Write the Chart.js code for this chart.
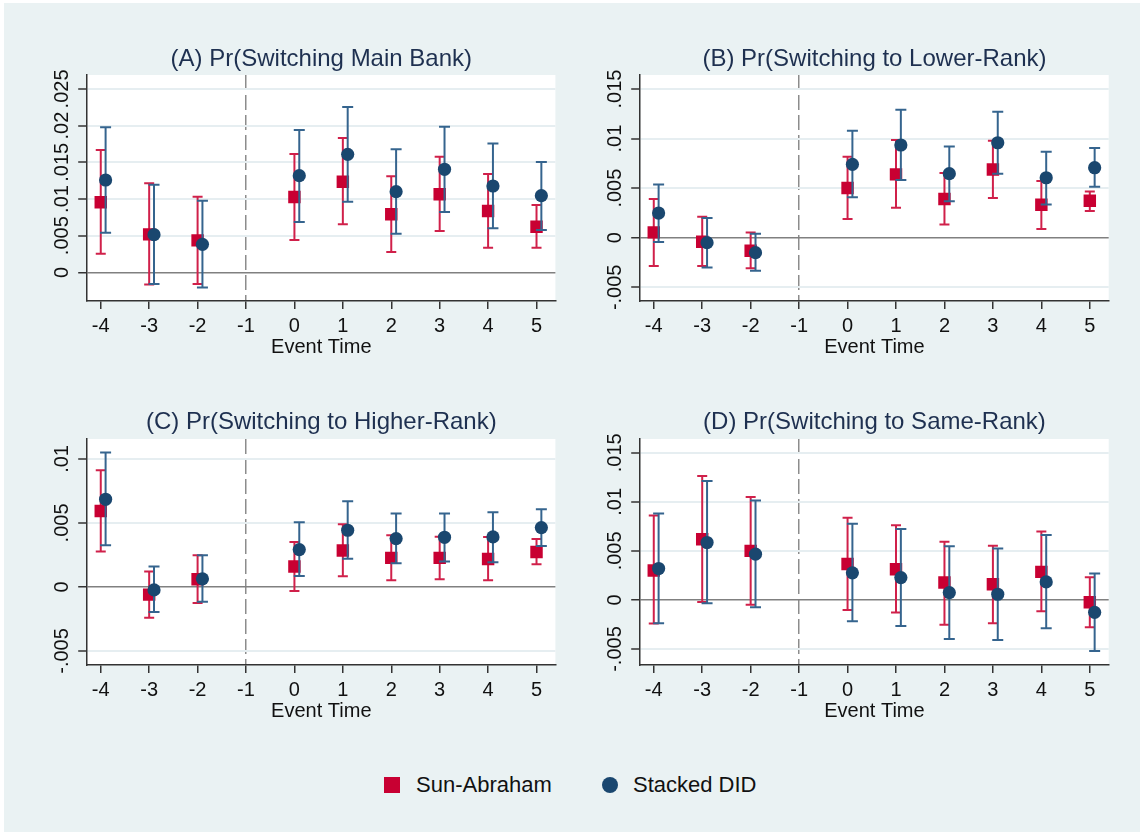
<!DOCTYPE html>
<html>
<head>
<meta charset="utf-8">
<script src="https://cdn.jsdelivr.net/npm/chart.js@4.4.1/dist/chart.umd.min.js"></script>
<style>
  html, body { margin: 0; padding: 0; background: #fff; }
  body { width: 1140px; height: 832px; position: relative; overflow: hidden;
         font-family: "Liberation Sans", Arial, sans-serif; }
  #bg { position: absolute; left: 4px; top: 3px; right: 0; bottom: 0; background: #eaf2f3; }
  canvas { position: absolute; }
  .lg-mark { position: absolute; width: 16px; height: 16px; top: 777px; }
  .lg-text { position: absolute; top: 772px; font-size: 22px; line-height: 26px; color: #111; white-space: nowrap; }
</style>
</head>
<body>
<div id="bg"></div>
<canvas id="cA" width="570" height="330" style="left:0;top:40px"></canvas>
<canvas id="cB" width="570" height="330" style="left:570px;top:40px"></canvas>
<canvas id="cC" width="570" height="330" style="left:0;top:400px"></canvas>
<canvas id="cD" width="570" height="330" style="left:570px;top:400px"></canvas>
<div id="legend"></div>
<script>
// event time axis
const eventTimes = [-4, -3, -2, 0, 1, 2, 3, 4, 5];
const xTicks = [-4, -3, -2, -1, 0, 1, 2, 3, 4, 5];
const refLine = -1;
const seriesNames = ["Sun-Abraham", "Stacked DID"];

// (A) Pr(Switching Main Bank)
const titleA = "(A) Pr(Switching Main Bank)";
const saA_est = [0.00955, 0.00518, 0.00436, 0.01027, 0.01236, 0.00791, 0.01064, 0.00836, 0.00623];
const saA_lo = [0.00255, -0.00164, -0.00159, 0.00441, 0.00655, 0.00277, 0.00564, 0.00336, 0.00336];
const saA_hi = [0.01668, 0.01214, 0.01032, 0.01614, 0.01832, 0.01309, 0.01577, 0.01341, 0.00918];
const sdA_est = [0.01259, 0.00514, 0.00382, 0.01318, 0.01609, 0.01100, 0.01405, 0.01177, 0.01045];
const sdA_lo = [0.00541, -0.00159, -0.00205, 0.00686, 0.00964, 0.00527, 0.00823, 0.00600, 0.00577];
const sdA_hi = [0.01977, 0.01195, 0.00977, 0.01941, 0.02255, 0.01677, 0.01986, 0.01755, 0.01505];
const ticksA = [0, 0.005, 0.01, 0.015, 0.02, 0.025];
const labelsA = ["0", ".005", ".01", ".015", ".02", ".025"];

// (B) Pr(Switching to Lower-Rank)
const titleB = "(B) Pr(Switching to Lower-Rank)";
const saB_est = [0.00054, -0.00040, -0.00131, 0.00501, 0.00639, 0.00390, 0.00689, 0.00333, 0.00373];
const saB_lo = [-0.00286, -0.00286, -0.00309, 0.00188, 0.00303, 0.00134, 0.00400, 0.00087, 0.00269];
const saB_hi = [0.00390, 0.00212, 0.00054, 0.00817, 0.00985, 0.00652, 0.00978, 0.00572, 0.00467];
const sdB_est = [0.00249, -0.00050, -0.00151, 0.00740, 0.00935, 0.00646, 0.00958, 0.00605, 0.00706];
const sdB_lo = [-0.00044, -0.00300, -0.00333, 0.00407, 0.00582, 0.00367, 0.00646, 0.00336, 0.00514];
const sdB_hi = [0.00538, 0.00198, 0.00040, 0.01079, 0.01291, 0.00921, 0.01271, 0.00868, 0.00905];
const ticksB = [-0.005, 0, 0.005, 0.01, 0.015];
const labelsB = ["-.005", "0", ".005", ".01", ".015"];

// (C) Pr(Switching to Higher-Rank)
const titleC = "(C) Pr(Switching to Higher-Rank)";
const saC_est = [0.00594, -0.00060, 0.00060, 0.00159, 0.00284, 0.00227, 0.00227, 0.00219, 0.00273];
const saC_lo = [0.00276, -0.00240, -0.00125, -0.00031, 0.00083, 0.00052, 0.00060, 0.00052, 0.00177];
const saC_hi = [0.00911, 0.00120, 0.00247, 0.00352, 0.00490, 0.00404, 0.00393, 0.00391, 0.00375];
const sdC_est = [0.00685, -0.00023, 0.00063, 0.00292, 0.00443, 0.00378, 0.00388, 0.00391, 0.00464];
const sdC_lo = [0.00326, -0.00195, -0.00115, 0.00086, 0.00221, 0.00185, 0.00198, 0.00193, 0.00320];
const sdC_hi = [0.01050, 0.00159, 0.00247, 0.00505, 0.00669, 0.00573, 0.00573, 0.00583, 0.00607];
const ticksC = [-0.005, 0, 0.005, 0.01];
const labelsC = ["-.005", "0", ".005", ".01"];

// (D) Pr(Switching to Same-Rank)
const titleD = "(D) Pr(Switching to Same-Rank)";
const saD_est = [0.00299, 0.00619, 0.00500, 0.00367, 0.00313, 0.00177, 0.00160, 0.00286, -0.00024];
const saD_lo = [-0.00241, -0.00020, -0.00048, -0.00102, -0.00129, -0.00252, -0.00238, -0.00116, -0.00279];
const saD_hi = [0.00860, 0.01262, 0.01048, 0.00837, 0.00762, 0.00592, 0.00551, 0.00697, 0.00231];
const sdD_est = [0.00320, 0.00585, 0.00466, 0.00276, 0.00228, 0.00075, 0.00058, 0.00184, -0.00126];
const sdD_lo = [-0.00238, -0.00034, -0.00075, -0.00218, -0.00265, -0.00398, -0.00408, -0.00289, -0.00520];
const sdD_hi = [0.00881, 0.01211, 0.01014, 0.00776, 0.00724, 0.00548, 0.00524, 0.00663, 0.00269];
const ticksD = [-0.005, 0, 0.005, 0.01, 0.015];
const labelsD = ["-.005", "0", ".005", ".01", ".015"];

// styling
const FONT = '"Liberation Sans", Arial, sans-serif';
const RED = "#c80032", RED_CI = "#d0204a";
const BLUE = "#1a476f", BLUE_CI = "#35648e";
const AXIS = "#333333", GRID = "#e6eef1", ZERO = "#808080";
const stackedShift = 0.1;

const panels = [
  { id: "cA", title: titleA, sa: [saA_est, saA_lo, saA_hi], sd: [sdA_est, sdA_lo, sdA_hi],
    ticks: ticksA, labels: labelsA, yMin: -0.0039, yMax: 0.0269,
    yWidth: 87.2, padRight: 14.6, padTop: 35, padBottom: 11, titleY: 19 },
  { id: "cB", title: titleB, sa: [saB_est, saB_lo, saB_hi], sd: [sdB_est, sdB_lo, sdB_hi],
    ticks: ticksB, labels: labelsB, yMin: -0.00638, yMax: 0.01641,
    yWidth: 70.2, padRight: 31.3, padTop: 35, padBottom: 11, titleY: 19 },
  { id: "cC", title: titleC, sa: [saC_est, saC_lo, saC_hi], sd: [sdC_est, sdC_lo, sdC_hi],
    ticks: ticksC, labels: labelsC, yMin: -0.0061, yMax: 0.01156,
    yWidth: 87.2, padRight: 14.6, padTop: 39, padBottom: 7, titleY: 22.5 },
  { id: "cD", title: titleD, sa: [saD_est, saD_lo, saD_hi], sd: [sdD_est, sdD_lo, sdD_hi],
    ticks: ticksD, labels: labelsD, yMin: -0.00663, yMax: 0.0164,
    yWidth: 70.2, padRight: 31.3, padTop: 39, padBottom: 7, titleY: 22.5 },
];

// CI segments: lo -> hi per event time, broken by a null point
function ciPoints(lo, hi, shift) {
  const pts = [];
  eventTimes.forEach((t, i) => {
    pts.push({ x: t + shift, y: lo[i] }, { x: t + shift, y: hi[i] }, { x: t + shift, y: null });
  });
  return pts;
}
function estPoints(est, shift) {
  return eventTimes.map((t, i) => ({ x: t + shift, y: est[i] }));
}

// white plot region, panel title and rotated y labels
const panelDecor = {
  id: "panelDecor",
  beforeDraw(chart) {
    const { ctx, chartArea: a } = chart;
    ctx.save();
    ctx.fillStyle = "#ffffff";
    ctx.fillRect(a.left, a.top, a.right - a.left, a.bottom - a.top);
    ctx.restore();
  },
  afterDraw(chart, args, opts) {
    const { ctx, chartArea: a } = chart;
    const y = chart.scales.y;
    ctx.save();
    ctx.fillStyle = "#1e3050";
    ctx.font = "24px " + FONT;
    ctx.textAlign = "center";
    ctx.textBaseline = "middle";
    ctx.fillText(opts.title, (a.left + a.right) / 2, opts.titleY);

    ctx.fillStyle = "#111111";
    ctx.font = "20px " + FONT;
    opts.ticks.forEach((v, i) => {
      ctx.save();
      ctx.translate(y.right - 25, y.getPixelForValue(v));
      ctx.rotate(-Math.PI / 2);
      ctx.fillText(opts.labels[i], 0, 0);
      ctx.restore();
    });
    ctx.restore();
  },
};

panels.forEach((p) => {
  new Chart(document.getElementById(p.id), {
    type: "scatter",
    data: {
      datasets: [
        {
          label: seriesNames[0] + " CI",
          data: ciPoints(p.sa[1], p.sa[2], 0),
          showLine: true, spanGaps: false,
          borderColor: RED_CI, borderWidth: 2,
          pointStyle: "line", pointRadius: 5, pointBorderColor: RED_CI, pointBorderWidth: 2,
          order: 4,
        },
        {
          label: seriesNames[0],
          data: estPoints(p.sa[0], 0),
          pointStyle: "rect", pointRadius: 8.8, backgroundColor: RED, pointBorderWidth: 0,
          order: 3,
        },
        {
          label: seriesNames[1] + " CI",
          data: ciPoints(p.sd[1], p.sd[2], stackedShift),
          showLine: true, spanGaps: false,
          borderColor: BLUE_CI, borderWidth: 2,
          pointStyle: "line", pointRadius: 5.5, pointBorderColor: BLUE_CI, pointBorderWidth: 2,
          order: 2,
        },
        {
          label: seriesNames[1],
          data: estPoints(p.sd[0], stackedShift),
          pointStyle: "circle", pointRadius: 6.6, backgroundColor: BLUE, pointBorderWidth: 0,
          order: 1,
        },
      ],
    },
    options: {
      responsive: false,
      animation: false,
      events: [],
      layout: { padding: { top: p.padTop, bottom: p.padBottom, left: 0, right: p.padRight } },
      plugins: {
        legend: { display: false },
        tooltip: { enabled: false },
        panelDecor: { title: p.title, titleY: p.titleY, ticks: p.ticks, labels: p.labels },
      },
      scales: {
        x: {
          type: "linear",
          min: -4.28, max: 5.39,
          afterBuildTicks: (s) => { s.ticks = xTicks.map((v) => ({ value: v })); },
          afterFit: (s) => { s.height = 58; },
          ticks: {
            autoSkip: false, maxRotation: 0, padding: 5,
            color: "#111111", font: { family: FONT, size: 20 },
            callback: (v) => String(v),
          },
          grid: {
            color: (c) => (c.tick && c.tick.value === refLine ? "#8c8c8c" : "rgba(0,0,0,0)"),
            lineWidth: 1.5,
            tickColor: AXIS, tickWidth: 1.5, tickLength: 8, tickBorderDash: [],
          },
          border: { color: AXIS, width: 1.5, dash: [15, 5] },
          title: {
            display: true, text: "Event Time", color: "#111111",
            font: { family: FONT, size: 20 }, padding: { top: 0, bottom: 0 },
          },
        },
        y: {
          type: "linear",
          min: p.yMin, max: p.yMax,
          afterBuildTicks: (s) => { s.ticks = p.ticks.map((v) => ({ value: v })); },
          afterFit: (s) => { s.width = p.yWidth; },
          ticks: { display: false },
          grid: {
            color: (c) => (c.tick && c.tick.value === 0 ? ZERO : GRID),
            lineWidth: (c) => (c.tick && c.tick.value === 0 ? 1.5 : 2),
            tickColor: AXIS, tickWidth: 1.5, tickLength: 9,
          },
          border: { color: AXIS, width: 1.5 },
        },
      },
    },
    plugins: [panelDecor],
  });
});

// shared legend below the panels
const legend = document.getElementById("legend");
const legendItems = [
  { name: seriesNames[0], color: RED, round: false, markLeft: 384, textLeft: 416 },
  { name: seriesNames[1], color: BLUE, round: true, markLeft: 601.6, textLeft: 633 },
];
legendItems.forEach((it) => {
  const m = document.createElement("div");
  m.className = "lg-mark";
  m.style.left = it.markLeft + "px";
  m.style.background = it.color;
  if (it.round) m.style.borderRadius = "50%";
  legend.appendChild(m);
  const t = document.createElement("div");
  t.className = "lg-text";
  t.style.left = it.textLeft + "px";
  t.textContent = it.name;
  legend.appendChild(t);
});
</script>
</body>
</html>
